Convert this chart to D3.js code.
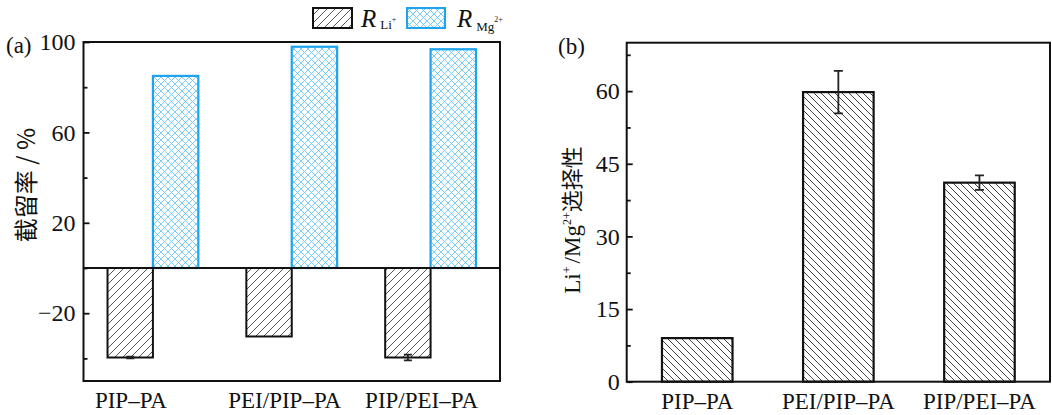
<!DOCTYPE html>
<html>
<head>
<meta charset="utf-8">
<script src="https://cdn.jsdelivr.net/npm/d3@7"></script>
<style>
  html, body { margin: 0; padding: 0; background: #fff; }
  svg { display: block; }
  text { font-family: "Liberation Serif", "DejaVu Serif", serif; fill: #111; }
  .cjk { font-family: "Noto Sans CJK SC", sans-serif; }
</style>
</head>
<body>
<svg id="chart" width="1052" height="415"></svg>
<script>
// Membranes compared in both panels
const membranes = ["PIP\u2013PA", "PEI/PIP\u2013PA", "PIP/PEI\u2013PA"];

// Panel (a): rejection (%) of Li+ and Mg2+
const rejectionLi = [-39.6, -30.3, -39.6];
const rejectionLiErr = [0.4, 0, 1.3];
const rejectionMg = [85.0, 97.9, 96.8];
const ticksA = [-20, 20, 60, 100];
const minorTicksA = [-40, 0, 40, 80];

// Panel (b): Li+/Mg2+ selectivity
const selectivity = [9.0, 59.8, 41.1];
const selectivityErr = [0, 4.4, 1.5];
const ticksB = [0, 15, 30, 45, 60];
const minorTicksB = [7.5, 22.5, 37.5, 52.5, 67.5];

const svg = d3.select("#chart");
const defs = svg.append("defs");

// Hatch fills
function hatch(id, size, lines, color, width) {
  const p = defs.append("pattern")
    .attr("id", id).attr("patternUnits", "userSpaceOnUse")
    .attr("width", size).attr("height", size);
  p.append("rect").attr("width", size).attr("height", size).attr("fill", "#fff");
  lines.forEach(d => p.append("path").attr("d", d)
    .attr("stroke", color).attr("stroke-width", width).attr("fill", "none"));
}
// forward diagonal "/"
hatch("hatchFwd", 8, ["M-2,2 L2,-2", "M0,8 L8,0", "M6,10 L10,6"], "#555", 1);
// back diagonal "\"
hatch("hatchBack", 7, ["M-2,5 L2,9", "M0,0 L7,7", "M5,-2 L9,2"], "#444", 1);
// cross hatch
hatch("hatchCross", 7, ["M0,7 L7,0", "M-2,2 L2,-2", "M5,9 L9,5", "M0,0 L7,7", "M-2,5 L2,9", "M5,-2 L9,2"], "#6cc6f5", 0.9);

const blue = "#1ea4ee";
const fontSize = 23;
const tickFont = 24;

function styleAxis(a, size) {
  a.select(".domain").remove();
  a.selectAll("line").attr("stroke", "#111").attr("stroke-width", 1.8);
  a.selectAll("text").attr("font-size", size).attr("font-family", "Liberation Serif").attr("fill", "#111");
}

// ---------- Panel (a) ----------
const xa = d3.scaleBand().domain(membranes).range([83.5, 500]).padding(0);
const ya = d3.scaleLinear().domain([-50, 100]).range([381, 42]);
const barW = xa.bandwidth() * 0.327;

const ga = svg.append("g");

// Li+ bars (negative rejection, below zero)
ga.selectAll("rect.li").data(membranes).join("rect")
  .attr("x", d => xa(d) + xa.bandwidth() / 2 - barW)
  .attr("width", barW)
  .attr("y", (d, i) => ya(Math.max(0, rejectionLi[i])))
  .attr("height", (d, i) => Math.abs(ya(rejectionLi[i]) - ya(0)))
  .attr("fill", "url(#hatchFwd)").attr("stroke", "#111").attr("stroke-width", 2);

// Mg2+ bars
ga.selectAll("rect.mg").data(membranes).join("rect")
  .attr("x", d => xa(d) + xa.bandwidth() / 2)
  .attr("width", barW)
  .attr("y", (d, i) => ya(rejectionMg[i]))
  .attr("height", (d, i) => ya(0) - ya(rejectionMg[i]))
  .attr("fill", "url(#hatchCross)").attr("stroke", blue).attr("stroke-width", 2.2);

// Li+ error bars
membranes.forEach((d, i) => {
  const e = rejectionLiErr[i];
  if (!e) return;
  const cx = xa(d) + xa.bandwidth() / 2 - barW / 2;
  const y1 = ya(rejectionLi[i] - e), y2 = ya(rejectionLi[i] + e);
  const path = `M${cx},${y1}L${cx},${y2}M${cx - 4},${y1}L${cx + 4},${y1}M${cx - 4},${y2}L${cx + 4},${y2}`;
  ga.append("path").attr("d", path).attr("stroke", "#222").attr("stroke-width", 1.8).attr("fill", "none");
});

// Frame and zero line
ga.append("rect").attr("x", 83.5).attr("y", 42).attr("width", 416.5).attr("height", 339)
  .attr("fill", "none").attr("stroke", "#111").attr("stroke-width", 2);
ga.append("line").attr("x1", 83.5).attr("x2", 500).attr("y1", ya(0)).attr("y2", ya(0))
  .attr("stroke", "#111").attr("stroke-width", 2);

// Axes (ticks point into the plot)
const axA = ga.append("g").attr("transform", "translate(83.5,0)")
  .call(d3.axisLeft(ya).tickValues(ticksA).tickSize(-6).tickPadding(8));
const axAm = ga.append("g").attr("transform", "translate(83.5,0)")
  .call(d3.axisLeft(ya).tickValues(minorTicksA).tickSize(-4).tickFormat(""));
const axAx = ga.append("g").attr("transform", "translate(0,381)")
  .call(d3.axisBottom(xa).tickSize(0).tickPadding(11));

styleAxis(axA, tickFont);
styleAxis(axAm, tickFont);
styleAxis(axAx, fontSize);
// category labels in panel (a) sit a little left of the group centres
axAx.selectAll("text").attr("dy", "0.71em").attr("dx", (d, i) => [-22, -7, -9][i]);

ga.append("text").attr("x", 6).attr("y", 53).attr("font-size", fontSize).text("(a)");

// y title
ga.append("text").attr("class", "cjk")
  .attr("transform", "translate(35,185) rotate(-90)")
  .attr("text-anchor", "middle").attr("font-size", 24)
  .text("截留率 / %");

// Legend
const leg = ga.append("g");
leg.append("rect").attr("x", 313).attr("y", 8).attr("width", 39).attr("height", 20)
  .attr("fill", "url(#hatchFwd)").attr("stroke", "#111").attr("stroke-width", 2);
const t1 = leg.append("text").attr("x", 361).attr("y", 27).attr("font-size", 25);
t1.append("tspan").attr("font-style", "italic").text("R");
t1.append("tspan").attr("font-size", 13).attr("dx", 4).attr("dy", 2).text("Li");
t1.append("tspan").attr("font-size", 8).attr("dy", -7).text("+");

leg.append("rect").attr("x", 407).attr("y", 8).attr("width", 38).attr("height", 20)
  .attr("fill", "url(#hatchCross)").attr("stroke", blue).attr("stroke-width", 2);
const t2 = leg.append("text").attr("x", 457).attr("y", 27).attr("font-size", 25);
t2.append("tspan").attr("font-style", "italic").text("R");
t2.append("tspan").attr("font-size", 13).attr("dx", 4).attr("dy", 4).text("Mg");
t2.append("tspan").attr("font-size", 8).attr("dy", -9).text("2+");

// ---------- Panel (b) ----------
const xb = d3.scaleBand().domain(membranes).range([626.7, 1050]).padding(0);
const yb = d3.scaleLinear().domain([0, 70]).range([381.7, 42.7]);
const barWB = xb.bandwidth() * 0.5;

const gb = svg.append("g");

gb.selectAll("rect.sel").data(membranes).join("rect")
  .attr("x", d => xb(d) + (xb.bandwidth() - barWB) / 2)
  .attr("width", barWB)
  .attr("y", (d, i) => yb(selectivity[i]))
  .attr("height", (d, i) => yb(0) - yb(selectivity[i]))
  .attr("fill", "url(#hatchBack)").attr("stroke", "#111").attr("stroke-width", 2.2);

membranes.forEach((d, i) => {
  const e = selectivityErr[i];
  if (!e) return;
  const cx = xb(d) + xb.bandwidth() / 2;
  const y1 = yb(selectivity[i] - e), y2 = yb(selectivity[i] + e);
  const path = `M${cx},${y1}L${cx},${y2}M${cx - 4.5},${y1}L${cx + 4.5},${y1}M${cx - 4.5},${y2}L${cx + 4.5},${y2}`;
  gb.append("path").attr("d", path).attr("stroke", "#222").attr("stroke-width", 1.8).attr("fill", "none");
});

gb.append("rect").attr("x", 626.7).attr("y", 42.7).attr("width", 423.3).attr("height", 339)
  .attr("fill", "none").attr("stroke", "#111").attr("stroke-width", 2);

const axB = gb.append("g").attr("transform", "translate(626.7,0)")
  .call(d3.axisLeft(yb).tickValues(ticksB).tickSize(-6).tickPadding(7));
const axBm = gb.append("g").attr("transform", "translate(626.7,0)")
  .call(d3.axisLeft(yb).tickValues(minorTicksB).tickSize(-4).tickFormat(""));
const axBx = gb.append("g").attr("transform", "translate(0,381.7)")
  .call(d3.axisBottom(xb).tickSize(0).tickPadding(11));

styleAxis(axB, tickFont);
styleAxis(axBm, tickFont);
styleAxis(axBx, fontSize);
axBx.selectAll("text").attr("dy", "0.71em");

gb.append("text").attr("x", 558).attr("y", 54).attr("font-size", fontSize).text("(b)");

// y title: Li+/Mg2+ 选择性
const tb = gb.append("text")
  .attr("transform", "translate(580,220) rotate(-90)")
  .attr("text-anchor", "middle").attr("font-size", 23);
tb.append("tspan").text("Li");
tb.append("tspan").attr("font-size", 12).attr("dy", -9).text("+");
tb.append("tspan").attr("dy", 9).attr("dx", 3).text("/Mg");
tb.append("tspan").attr("font-size", 12).attr("dy", -9).text("2+");
tb.append("tspan").attr("class", "cjk").attr("font-size", 22).attr("dy", 9).text("选择性");
</script>
</body>
</html>
